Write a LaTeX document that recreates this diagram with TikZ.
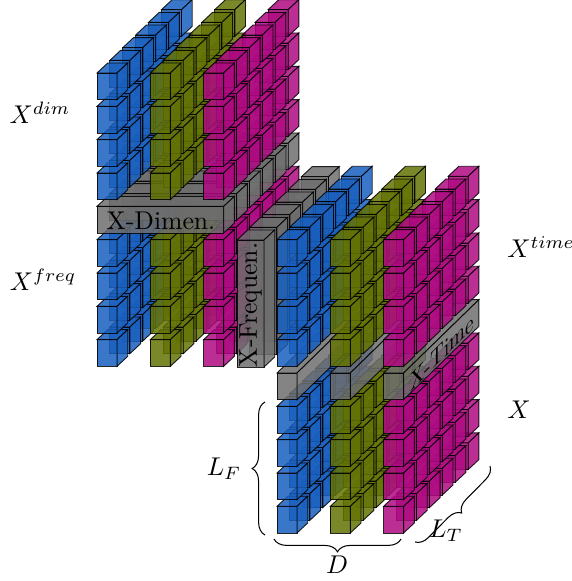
\documentclass[tikz,border=0pt]{standalone}
\usetikzlibrary{decorations.pathreplacing}

\definecolor{cubeblue}{RGB}{25,95,190}
\definecolor{cubeolive}{RGB}{100,115,5}
\definecolor{cubemagenta}{RGB}{175,10,130}
\definecolor{cubegray}{RGB}{110,110,110}

\tikzset{
  cubeface/.style={draw=black,line width=0.35pt,draw opacity=0.85,fill=#1,fill opacity=0.85},
  curly/.style={decorate,decoration={brace,amplitude=5pt}}
}

% style, corner, width, height, depth in x, depth in y
\newcommand{\cuboid}[6]{
  \draw[cubeface=#1] #2 rectangle ++(#3,#4);
  \draw[cubeface=#1] #2 ++(0,#4) -- ++(#5,#6) -- ++(#3,0) -- ++(-#5,-#6) -- cycle;
  \draw[cubeface=#1] #2 ++(#3,0) -- ++(#5,#6) -- ++(0,#4) -- ++(-#5,-#6) -- cycle;
}

% rows of cubes, back to front
\newcommand{\cuberows}[1]{
  \foreach \row in {#1} {
    \foreach \depth in {5,4,3,2,1,0} {
      \foreach \col/\shade in {0/cubeblue,1/cubeolive,2/cubemagenta} {
        \cuboid{\shade}{({\col*53.3+\depth*12.9},{\row*33.33+\depth*12.67})}{20}{26.7}{10.7}{10}
      }
    }
  }
}

\begin{document}
\begin{tikzpicture}[x=0.0137cm,y=0.0137cm]

\useasboundingbox (0,0) rectangle (571,581);

% Upper block
\begin{scope}[xshift=97*0.0137cm,yshift=48*0.0137cm]

\cuberows{5,6,7,8}

\foreach \depth in {5,4,3,2,1,0} {
  \cuboid{cubegray}{({\depth*12.9},{9*33.33+\depth*12.67})}{126.7}{26.7}{10.7}{10}
}

\node (dimen) at (64,{9*33.33+12.5}) {X-Dimen.};

\cuberows{10,11,12,13}

\end{scope}

% Vertical bars
\foreach \depth in {5,4,3,2,1,0} {
  \cuboid{cubegray}{({237+\depth*12.9},{214+\depth*12.67})}{27}{127}{10.7}{10}
}

\node[rotate=90] (frequen) at (250.5,276) {X-Frequen.};

% Lower block
\begin{scope}[xshift=277*0.0137cm,yshift=48*0.0137cm]

\cuberows{0,1,2,3}

\foreach \col in {0,1,2} {
  \cuboid{cubegray}{({\col*53.3},133.3)}{20}{26.7}{75.2}{73.3}
}

\node[cm={0.74,0.74,0,1,(0,0)},transform shape] (time) at (165,181) {X-Time};

\cuberows{5,6,7,8}

\end{scope}

% Labels
\node (Xdim) at (40,468) {$X^{dim}$};
\node (Xfreq) at (43,301) {$X^{freq}$};
\node (Xtime) at (541,334) {$X^{time}$};
\node (X) at (519,171) {$X$};
\node (LF) at (224,112) {$L_F$};
\node (D) at (337,16) {$D$};
\node (LT) at (446,50) {$L_T$};

% Braces
\draw[curly] (265,46) -- (265,179);
\draw[curly] (401,42) -- (274,42);
\draw[curly] (490,115) -- (415,39);

\end{tikzpicture}
\end{document}
